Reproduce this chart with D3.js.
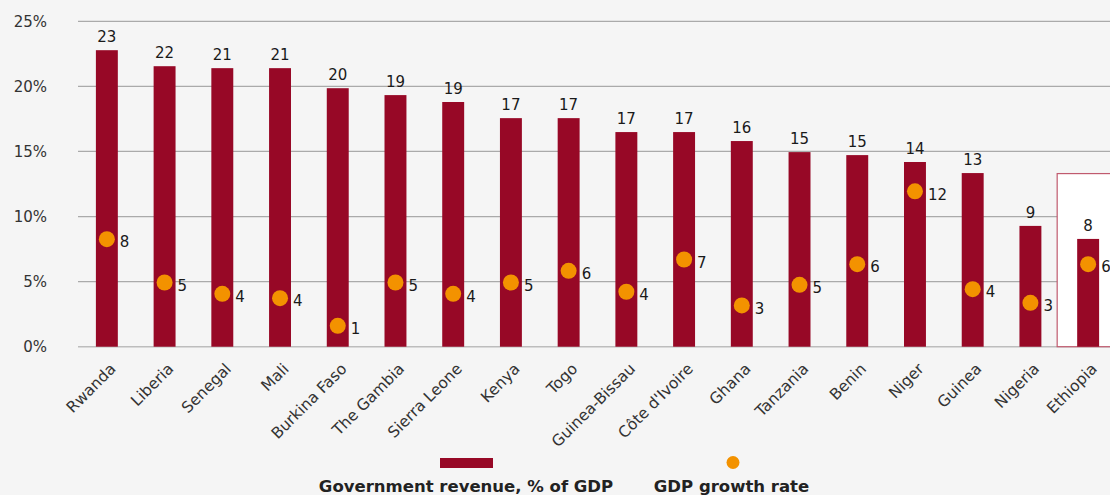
<!DOCTYPE html>
<html>
<head>
<meta charset="utf-8">
<script src="https://cdn.jsdelivr.net/npm/d3@7"></script>
<style>
  html, body { margin: 0; padding: 0; background: #f5f5f5; }
  svg { display: block; font-family: "DejaVu Sans", sans-serif; }
</style>
</head>
<body>
<svg id="chart" width="1110" height="495"></svg>
<script>
const categories = ["Rwanda","Liberia","Senegal","Mali","Burkina Faso","The Gambia","Sierra Leone","Kenya","Togo","Guinea-Bissau","Côte d'Ivoire","Ghana","Tanzania","Benin","Niger","Guinea","Nigeria","Ethiopia"];
const revenue = [22.78,21.55,21.4,21.4,19.86,19.33,18.8,17.56,17.56,16.49,16.49,15.8,14.95,14.72,14.19,13.34,9.28,8.28];
const revenueLabels = [23,22,21,21,20,19,19,17,17,17,17,16,15,15,14,13,9,8];
const growth = [8.26,4.93,4.06,3.73,1.6,4.93,4.06,4.93,5.83,4.22,6.7,3.17,4.75,6.34,11.94,4.42,3.37,6.34];
const growthLabels = [8,5,4,4,1,5,4,5,6,4,7,3,5,6,12,4,3,6];
const yTicks = [0,5,10,15,20,25];
const highlighted = "Ethiopia";
const highlightTop = 13.3;
const legendLabels = ["Government revenue, % of GDP","GDP growth rate"];

const barColor = "#970826";
const dotColor = "#f39200";
const svg = d3.select("#chart");
svg.append("rect").attr("width",1110).attr("height",495).attr("fill","#f5f5f5");

const x = d3.scaleBand().domain(categories).range([78,1117]).paddingInner(0.62).paddingOuter(0.31);
const y = d3.scaleLinear().domain([0,25]).range([346.7,21.3]);

// gridlines
svg.append("g").selectAll("line").data(yTicks).join("line")
  .attr("x1",78).attr("x2",1110)
  .attr("y1",d=>y(d)).attr("y2",d=>y(d))
  .attr("stroke",d=>d===0?"#bdbdbd":"#aaaaaa").attr("stroke-width",d=>d===0?1.6:1.2);

// y axis labels
const yAxis = d3.axisLeft(y).tickValues(yTicks).tickFormat(d=>d+"%").tickSize(0).tickPadding(0);
const yg = svg.append("g").attr("transform","translate(47,0)").call(yAxis);
yg.select(".domain").remove();
yg.selectAll("text").attr("font-size",15).attr("fill","#333").attr("font-family","DejaVu Sans, sans-serif");

// highlight box
svg.append("rect")
  .attr("x", x(highlighted) - 20).attr("y", y(highlightTop))
  .attr("width", 80).attr("height", y(0) - y(highlightTop))
  .attr("fill","#ffffff").attr("stroke","#c05a6e").attr("stroke-width",1.2);

// bars
svg.append("g").selectAll("rect").data(categories).join("rect")
  .attr("x",d=>x(d)).attr("width",x.bandwidth())
  .attr("y",(d,i)=>y(revenue[i])).attr("height",(d,i)=>y(0)-y(revenue[i]))
  .attr("fill",barColor);

// bar labels
svg.append("g").selectAll("text").data(categories).join("text")
  .attr("x",d=>x(d)+x.bandwidth()/2).attr("y",(d,i)=>y(revenue[i])-8)
  .attr("text-anchor","middle").attr("font-size",15).attr("fill","#1a1a1a")
  .text((d,i)=>revenueLabels[i]);

// dots
svg.append("g").selectAll("circle").data(categories).join("circle")
  .attr("cx",d=>x(d)+x.bandwidth()/2).attr("cy",(d,i)=>y(growth[i]))
  .attr("r",8).attr("fill",dotColor);

// dot labels
svg.append("g").selectAll("text").data(categories).join("text")
  .attr("x",d=>x(d)+x.bandwidth()/2+13).attr("y",(d,i)=>y(growth[i])+3)
  .attr("dy","0.35em").attr("font-size",15).attr("fill","#1a1a1a")
  .text((d,i)=>growthLabels[i]);

// x category labels
svg.append("g").selectAll("text").data(categories).join("text")
  .attr("transform",d=>`translate(${x(d)+x.bandwidth()/2+6},${366}) rotate(-45)`)
  .attr("text-anchor","end").attr("dy","0.35em")
  .attr("font-size",15.5).attr("fill","#333")
  .text(d=>d);

// legend
svg.append("rect").attr("x",440).attr("y",458).attr("width",53).attr("height",10).attr("fill",barColor);
svg.append("circle").attr("cx",733).attr("cy",462.5).attr("r",6.5).attr("fill",dotColor);
svg.append("text").attr("x",466).attr("y",492).attr("text-anchor","middle")
  .attr("font-size",16.5).attr("font-weight","bold").attr("fill","#222").text(legendLabels[0]);
svg.append("text").attr("x",731.5).attr("y",492).attr("text-anchor","middle")
  .attr("font-size",16.5).attr("font-weight","bold").attr("fill","#222").text(legendLabels[1]);
</script>
</body>
</html>
